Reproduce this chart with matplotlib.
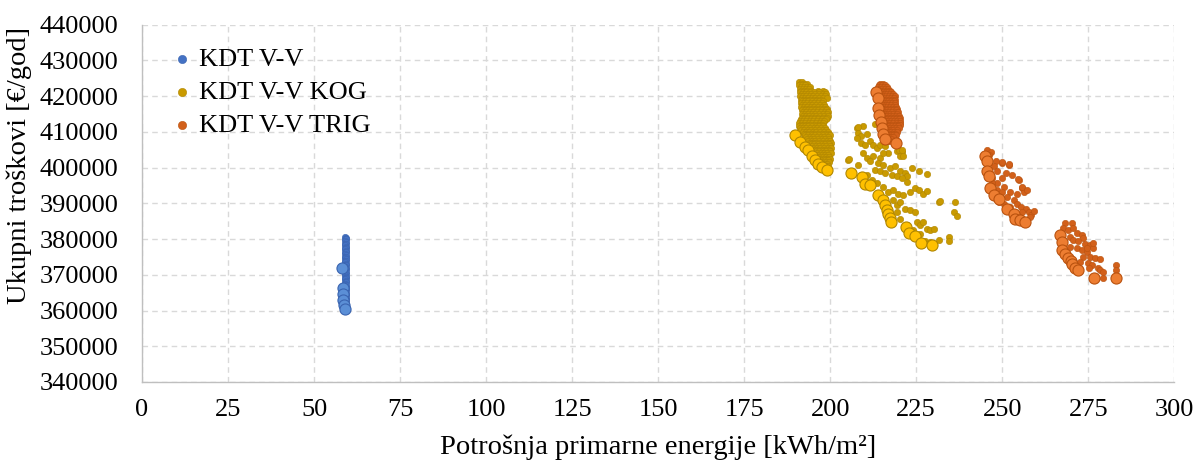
import numpy as np
import matplotlib
matplotlib.use("Agg")
import matplotlib.pyplot as plt

plt.rcParams["font.family"] = ["Liberation Serif", "DejaVu Serif"]

# ---------------------------------------------------------------------------
# Data
# dense clusters are stored as rows: (total cost, [primary energy values])
# ---------------------------------------------------------------------------

# KDT V-V : all variants (small) and optimal front (large)
vv_rows = [
    (380700, [59.1]), (380300, [59.2]), (379900, [59.0, 59.3]), (379500, [59.1]),
    (379100, [59.2]), (378700, [59.0, 59.3]), (378300, [59.1]), (377900, [59.2]),
    (377500, [59.0, 59.3]), (377100, [59.1]), (376700, [59.2]), (376300, [59.0, 59.3]),
    (375900, [59.1]), (375500, [59.2]), (375100, [59.0, 59.3]), (374700, [59.1]),
    (374300, [59.2]), (373900, [59.0, 59.3]), (373500, [59.1]), (373100, [59.2]),
    (372700, [59.0, 59.3]), (372300, [59.1]), (371900, [59.2]), (371500, [59.0, 59.3]),
    (371100, [59.1]), (370700, [59.2]), (370300, [59.0, 59.3]), (369900, [59.1]),
    (369500, [59.2]), (369100, [59.0, 59.4]), (368700, [59.1]), (368300, [59.2]),
    (367900, [59.0, 59.3]), (367500, [59.1]), (367100, [59.2]), (366700, [59.0, 59.3]),
    (366300, [59.1]), (365900, [59.2]), (365500, [59.0, 59.3]), (365100, [59.1]),
    (364700, [59.2]), (364300, [59.0, 59.3]), (363900, [59.1]), (363500, [59.2]),
    (363100, [59.0, 59.3]), (362700, [59.1]), (362300, [59.2]), (361900, [59.0, 59.3]),
    (361500, [59.1]), (361100, [59.2]), (360700, [59.1, 59.3]),
]
vv_opt_x = [58.1, 58.5, 58.5, 58.5, 58.6, 59.0]
vv_opt_y = [372000, 366200, 364600, 363000, 361600, 360400]

# KDT V-V KOG, dense group near 190-200
kog_rows = [
    (424000, [191.0, 191.8]),
    (423500, [191.4, 192.3, 193.2]),
    (423000, [191.0, 191.9, 192.8]),
    (422500, [191.5, 192.4, 193.4, 194.2]),
    (422000, [191.1, 192.0, 192.9, 193.8]),
    (421500, [191.6, 192.5, 193.4, 194.5, 196.4, 197.9]),
    (421000, [191.2, 192.1, 193.0, 194.0, 195.2, 196.9, 198.4]),
    (420500, [191.7, 192.6, 193.5, 194.5, 195.6, 196.7, 197.8, 198.8]),
    (420000, [191.3, 192.2, 193.1, 194.0, 195.1, 196.2, 197.3, 198.4]),
    (419500, [191.7, 192.6, 193.6, 194.6, 195.7, 196.8, 197.9, 199.0]),
    (419000, [191.4, 192.3, 193.2, 194.2, 195.2, 196.3, 197.4]),
    (418500, [191.8, 192.7, 193.7, 194.7, 195.8, 196.9, 198.0]),
    (418000, [191.5, 192.4, 193.3, 194.3, 195.3, 196.4, 197.5]),
    (417500, [191.9, 192.8, 193.8, 194.8, 195.9, 197.0, 198.2]),
    (417000, [191.6, 192.5, 193.4, 194.4, 195.4, 196.5, 197.6, 198.6]),
    (416500, [192.0, 192.9, 193.9, 194.9, 196.0, 197.1, 198.2, 199.2]),
    (416000, [191.7, 192.6, 193.5, 194.5, 195.5, 196.6, 197.7, 198.8]),
    (415500, [192.1, 193.0, 194.0, 195.0, 196.1, 197.2, 198.4, 199.5]),
    (415000, [191.8, 192.7, 193.6, 194.6, 195.6, 196.7, 197.9, 199.0]),
    (414500, [192.0, 192.9, 193.9, 194.9, 196.0, 197.1, 198.3, 199.5]),
    (414000, [191.7, 192.6, 193.5, 194.5, 195.5, 196.6, 197.8, 199.0]),
    (413500, [191.5, 192.4, 193.4, 194.4, 195.4, 196.5, 197.6, 198.8]),
    (413000, [191.2, 192.1, 193.0, 194.0, 195.0, 196.1, 197.2, 198.3]),
    (412500, [191.0, 191.9, 192.8, 193.8, 194.8, 195.9, 197.0, 198.0]),
    (412000, [191.4, 192.3, 193.2, 194.2, 195.3, 196.4, 197.5]),
    (411500, [190.8, 191.7, 192.7, 193.7, 194.7, 195.8, 196.9, 198.0]),
    (411000, [191.2, 192.1, 193.1, 194.1, 195.2, 196.3, 197.4, 198.5]),
    (410500, [191.6, 192.5, 193.5, 194.5, 195.6, 196.7, 197.8, 198.9]),
    (410000, [192.0, 192.9, 193.9, 194.9, 196.0, 197.1, 198.2, 199.3]),
    (409500, [192.4, 193.3, 194.3, 195.3, 196.4, 197.5, 198.6, 199.6]),
    (409000, [192.8, 193.7, 194.7, 195.7, 196.8, 197.9, 199.0, 199.9]),
    (408500, [193.1, 194.1, 195.1, 196.1, 197.2, 198.3, 199.4]),
    (408000, [193.4, 194.4, 195.4, 196.4, 197.5, 198.6, 199.7]),
    (407500, [193.7, 194.7, 195.7, 196.8, 197.9, 199.0, 200.0]),
    (407000, [194.0, 195.0, 196.0, 197.1, 198.2, 199.3, 200.2]),
    (406500, [194.4, 195.4, 196.4, 197.5, 198.6, 199.6]),
    (406000, [194.8, 195.8, 196.8, 197.8, 198.9, 199.9]),
    (405500, [195.1, 196.1, 197.1, 198.2, 199.3, 200.2]),
    (405000, [195.5, 196.5, 197.5, 198.5, 199.6]),
    (404500, [195.8, 196.8, 197.8, 198.9, 199.9]),
    (404000, [196.2, 197.2, 198.2, 199.2, 200.2]),
    (403500, [196.5, 197.5, 198.5, 199.5]),
    (403000, [196.8, 197.8, 198.8, 199.8]),
    (402500, [197.1, 198.1, 199.1, 199.9]),
    (402000, [197.4, 198.4, 199.4]),
    (401500, [197.7, 198.7, 199.6]),
    (401000, [198.0, 199.0]),
    (400500, [198.5, 199.4]),
    (400000, [199.0]),
]
# KDT V-V KOG, scattered group near 205-237
kog_x = [
    207.7, 209.6, 208.2, 209.1, 210.6, 207.7, 209.1, 210.1, 211.6, 212.5,
    213.5, 214.5, 216.0, 216.9, 219.4, 220.8, 209.6, 210.6, 212.5, 214.5,
    215.5, 211.6, 214.0, 215.5, 217.4, 218.9, 220.3, 221.8, 222.3, 223.7,
    225.7, 228.1, 213.0, 214.5, 216.0, 217.9, 219.4, 220.8, 222.3, 210.6,
    212.1, 213.5, 215.5, 216.9, 218.4, 219.8, 221.3, 223.2, 224.7, 225.7,
    227.1, 228.1, 231.5, 232.0, 236.4, 235.9, 236.9, 218.4, 219.4, 220.3,
    221.8, 223.2, 224.7, 225.2, 226.2, 227.1, 228.1, 229.1, 230.1, 231.5,
    234.4, 234.4, 219.4, 220.3, 222.3, 224.2, 226.2, 227.6, 229.1, 205.3,
    208.2, 205.6, 208.2, 213.1, 219.9, 220.9, 220.3, 221.1,
]
kog_y = [
    411100, 411600, 409700, 408800, 409250, 408300, 406900, 406400, 407400, 406400,
    405500, 406400, 405900, 404100, 404500, 404300, 404100, 402600, 403100, 402600,
    404100, 401700, 401200, 400800, 399800, 400300, 398900, 398400, 397500, 399800,
    398900, 398100, 399300, 398900, 398400, 397900, 397500, 397000, 396000, 397900,
    396500, 395600, 394600, 393200, 393700, 392700, 392300, 393200, 394200, 393700,
    392700, 393400, 390400, 390600, 390400, 387600, 386400, 390900, 389400, 390400,
    388500, 388000, 387600, 384700, 383800, 384700, 382800, 382400, 382800, 379800,
    380500, 379500, 387600, 385700, 383800, 382400, 381400, 379500, 379100, 402200,
    400800, 402500, 411400, 412100, 404900, 404900, 403200, 403200,
]
kog_opt_x = [189.8, 191.3, 192.7, 193.7, 194.7, 195.7, 196.6, 197.6, 199.0,
             206.1, 209.2, 210.2, 211.6, 214.0, 215.5, 216.0, 216.5, 216.9,
             217.4, 217.7, 222.1, 223.0, 224.7, 226.4, 229.6]
kog_opt_y = [409000, 407200, 405800, 404800, 403200, 402000, 400900, 400100, 399400,
             398450, 397300, 395300, 395000, 392200, 390800, 389400, 388200, 387050,
             385900, 384900, 383500, 381700, 380900, 378800, 378200]

# KDT V-V TRIG, dense group near 213-221
trig_rows = [
    (423500, [214.6, 215.4]),
    (423000, [214.2, 215.0, 215.8]),
    (422500, [214.0, 214.8, 215.6, 216.4]),
    (422000, [214.4, 215.2, 216.0, 216.8]),
    (421500, [214.1, 214.9, 215.7, 216.5, 217.4]),
    (421000, [214.5, 215.3, 216.1, 216.9, 217.8]),
    (420500, [214.2, 215.0, 215.8, 216.6, 217.5, 218.4]),
    (420000, [214.6, 215.4, 216.2, 217.0, 217.9, 218.7]),
    (419500, [214.3, 215.1, 215.9, 216.7, 217.6, 218.5]),
    (419000, [214.7, 215.5, 216.3, 217.1, 218.0, 218.9]),
    (418500, [214.4, 215.2, 216.0, 216.8, 217.7, 218.6]),
    (418000, [214.8, 215.6, 216.4, 217.2, 218.1, 218.9]),
    (417500, [214.5, 215.3, 216.1, 216.9, 217.8, 218.7]),
    (417000, [214.9, 215.7, 216.5, 217.3, 218.2, 219.0]),
    (416500, [214.6, 215.4, 216.2, 217.0, 217.9, 218.8, 219.5]),
    (416000, [215.0, 215.8, 216.6, 217.4, 218.3, 219.2]),
    (415500, [214.8, 215.6, 216.4, 217.2, 218.1, 219.0, 219.8]),
    (415000, [215.1, 215.9, 216.7, 217.5, 218.4, 219.3]),
    (414500, [214.9, 215.7, 216.5, 217.3, 218.2, 219.1, 220.0]),
    (414000, [215.2, 216.0, 216.8, 217.6, 218.5, 219.4, 220.2]),
    (413500, [215.0, 215.8, 216.6, 217.4, 218.3, 219.2, 220.1]),
    (413000, [215.3, 216.1, 216.9, 217.7, 218.6, 219.5, 220.3]),
    (412500, [215.1, 215.9, 216.7, 217.5, 218.4, 219.3, 220.2]),
    (412000, [215.4, 216.2, 217.0, 217.8, 218.7, 219.6, 220.3]),
    (411500, [215.6, 216.4, 217.2, 218.0, 218.9, 219.8]),
    (411000, [215.8, 216.6, 217.4, 218.2, 219.1, 219.9]),
    (410500, [216.0, 216.8, 217.6, 218.4, 219.3]),
    (410000, [216.2, 217.0, 217.8, 218.6, 219.4]),
    (409500, [216.4, 217.2, 218.0, 218.8]),
    (409000, [216.6, 217.4, 218.2, 219.0]),
    (408500, [216.8, 217.6, 218.4]),
    (408000, [217.0, 217.8]),
    (407500, [217.2]),
]
# KDT V-V TRIG, scattered groups near 245-259 and 267-284
trig_x = [
    245.6, 246.6, 246.1, 248.1, 250.0, 252.0, 247.6, 248.5, 251.0, 252.9,
    254.9, 255.8, 256.3, 254.4, 252.4, 250.5, 248.5, 247.1, 248.5, 250.0,
    251.5, 253.4, 254.4, 255.4, 256.8, 257.8, 258.3, 255.8, 254.9, 252.4,
    250.5, 249.0, 247.1, 250.0, 249.9, 252.1, 254.7, 255.7, 257.2, 259.1,
    258.1,
    268.2, 270.2, 267.7, 269.2, 270.6, 271.6, 273.1, 273.5, 269.7, 270.6,
    272.1, 274.0, 275.5, 276.5, 269.7, 271.6, 273.1, 274.5, 275.5, 277.0,
    278.4, 273.5, 272.6, 275.0, 276.0, 277.9, 278.4, 279.4, 275.3, 283.2,
    283.2, 279.4, 274.5, 276.5,
]
trig_y = [
    405000, 404300, 403600, 401700, 401200, 400800, 400300, 398900, 398400, 397900,
    396500, 394200, 393200, 392700, 393200, 394600, 395600, 397000, 393700, 393200,
    391800, 390900, 389900, 389000, 388500, 387600, 386600, 387600, 386100, 389000,
    389900, 390400, 395600, 397000, 401500, 400900, 396900, 394500, 393800, 387800,
    386300,
    384400, 384400, 383000, 382500, 383000, 381600, 381100, 380400, 380600, 379700,
    379400, 378500, 378300, 377400, 377900, 377400, 376900, 376500, 375100, 374600,
    374400, 375100, 373700, 373200, 372800, 372000, 371400, 370900, 371900, 372800,
    371400, 369100, 377400, 378800,
]
trig_opt_x = [213.4, 213.8, 213.8, 214.2, 214.7, 215.2, 215.5, 216.0, 219.2,
              245.1, 245.6, 245.6, 246.1, 246.4, 247.6, 249.0, 251.5, 253.3, 253.8,
              255.2, 256.7,
              266.8, 267.5, 267.4, 268.2, 269.2, 269.9, 270.4, 271.1, 272.1, 276.7,
              283.0]
trig_opt_y = [421200, 419350, 416550, 414650, 412780, 410930, 409520, 408120, 406800,
              403100, 401700, 398900, 397500, 394200, 392300, 391300, 388300, 387000,
              385600, 385400, 384700,
              381100, 379300, 376900, 375700, 374800, 373900, 373000, 372000, 371400,
              369100, 369100]


def unroll(rows):
    xs = [x for y, row in rows for x in row]
    ys = [y for y, row in rows for x in row]
    return xs, ys


vv_x, vv_y = unroll(vv_rows)
kog_dx, kog_dy = unroll(kog_rows)
trig_dx, trig_dy = unroll(trig_rows)

series = [
    ("KDT V-V", vv_x, vv_y, vv_opt_x, vv_opt_y, "#4472C4", "#3A64B0", "#5B8FD6"),
    ("KDT V-V KOG", kog_dx + kog_x, kog_dy + kog_y, kog_opt_x, kog_opt_y,
     "#C99A00", "#B08600", "#FFC000"),
    ("KDT V-V TRIG", trig_dx + trig_x, trig_dy + trig_y, trig_opt_x, trig_opt_y,
     "#D2601A", "#B9520F", "#ED7D31"),
]

# ---------------------------------------------------------------------------
# Plot
# ---------------------------------------------------------------------------

fig = plt.figure(figsize=(11.97, 4.62), dpi=100)
ax = fig.add_axes([0.1186, 0.1732, 0.8624, 0.7736])

handles = []
for label, x, y, ox, oy, c_small, c_edge, c_big in series:
    h = ax.scatter(x, y, s=21, color=c_small, edgecolors=c_edge, linewidths=0.4,
                   zorder=3, label=label)
    ax.scatter(ox, oy, s=64, color=c_big, edgecolors=c_edge, linewidths=0.8,
               zorder=4)
    handles.append(h)

ax.set_xlim(0, 300)
ax.set_ylim(340000, 440000)
ax.set_xticks(np.arange(0, 301, 25))
ax.set_yticks(np.arange(340000, 440001, 10000))
ax.grid(True, linestyle=(0, (4, 3)), color="#D9D9D9", linewidth=1.0, zorder=0)
ax.set_axisbelow(True)

for s in ["top", "right"]:
    ax.spines[s].set_visible(False)
for s in ["left", "bottom"]:
    ax.spines[s].set_color("#BFBFBF")
    ax.spines[s].set_linewidth(1.0)

ax.tick_params(axis="both", length=0, labelsize=19)
ax.tick_params(axis="y", pad=17)
ax.tick_params(axis="x", pad=12)

ax.set_xlabel("Potrošnja primarne energije [kWh/m²]", fontsize=20.5, labelpad=10)
ax.set_ylabel("Ukupni troškovi [€/god]", fontsize=20.5)
ax.yaxis.set_label_coords(-0.107, 0.605)

leg = ax.legend(handles=handles, loc="upper left", bbox_to_anchor=(0.017, 0.965),
                frameon=False, fontsize=19, handletextpad=0.2, handlelength=0.9,
                labelspacing=0.36, markerscale=1.3, borderaxespad=0.0)

fig.savefig("out.png", dpi=100)
print("Saved: out.png")
